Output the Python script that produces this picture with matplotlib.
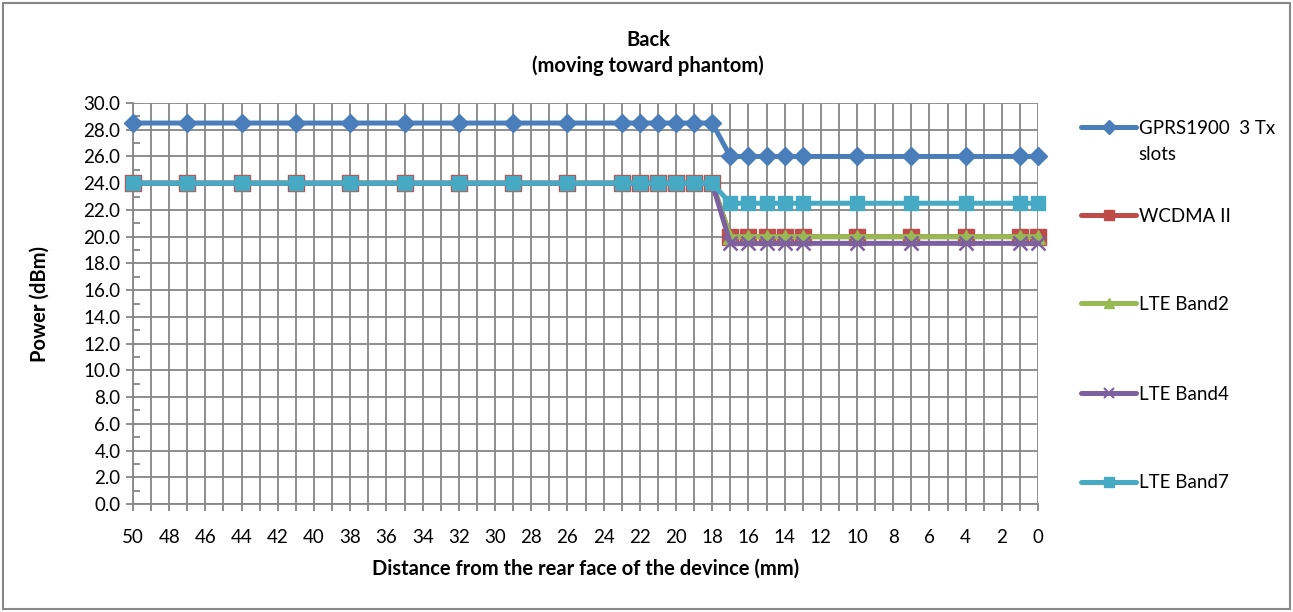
import matplotlib
matplotlib.use("Agg")
import matplotlib.pyplot as plt
from matplotlib.lines import Line2D
from matplotlib.patches import Rectangle
from matplotlib.ticker import MultipleLocator, FormatStrFormatter

plt.rcParams['font.family'] = ['Lato', 'DejaVu Sans']

distance = [50, 47, 44, 41, 38, 35, 32, 29, 26, 23, 22, 21, 20, 19, 18,
            17, 16, 15, 14, 13, 10, 7, 4, 1, 0]
gprs1900 = [28.5] * 15 + [26.0] * 10
wcdma2 = [24.0] * 15 + [20.0] * 10
lte_band2 = [24.0] * 15 + [20.0] * 10
lte_band4 = [24.0] * 15 + [19.5] * 10
lte_band7 = [24.0] * 15 + [22.5] * 10

series_names = ["GPRS1900  3 Tx\nslots", "WCDMA II", "LTE Band2", "LTE Band4", "LTE Band7"]
series_values = [gprs1900, wcdma2, lte_band2, lte_band4, lte_band7]
colors = ["#4A7EBB", "#BE4B48", "#98B954", "#7D60A0", "#46AAC5"]
markers = ["D", "s", "^", "x", "s"]
msizes = [9.5, 11.5, 10, 10, 10]

FS_TICK = 13.5
FS_BOLD = 14.5

W, H = 1293, 612
fig = plt.figure(figsize=(W / 100, H / 100), dpi=100)
ax = fig.add_axes([133 / W, 1 - 504 / H, (1038 - 133) / W, (504 - 103) / H])

grid_c = "#868686"
lines = []
for name, vals, c, m, ms in zip(series_names, series_values, colors, markers, msizes):
    kw = dict(color=c, lw=3.6, marker=m, markersize=ms, zorder=3, solid_joinstyle='round', clip_on=False)
    if m == "x":
        kw.update(markeredgewidth=1.8)
    else:
        kw.update(markeredgecolor=c)
    ln, = ax.plot(distance, vals, **kw)
    lines.append(ln)

ax.set_xlim(50, 0)
ax.set_ylim(0, 30)
ax.xaxis.set_major_locator(MultipleLocator(2))
ax.xaxis.set_minor_locator(MultipleLocator(1))
ax.yaxis.set_major_locator(MultipleLocator(2))
ax.yaxis.set_minor_locator(MultipleLocator(1))
ax.yaxis.set_major_formatter(FormatStrFormatter('%.1f'))
ax.grid(True, which='major', axis='y', color=grid_c, lw=1.3, zorder=0)
ax.grid(True, which='both', axis='x', color=grid_c, lw=1.3, zorder=0)
for s in ax.spines.values():
    s.set_visible(False)
for side in ('left', 'bottom'):
    ax.spines[side].set_visible(True)
    ax.spines[side].set_color(grid_c)
    ax.spines[side].set_linewidth(1.3)
ax.tick_params(axis='x', which='both', direction='out', length=5, width=1.3, color=grid_c, labelsize=FS_TICK, pad=13)
ax.tick_params(axis='y', which='major', direction='out', length=5, width=1.3, color=grid_c, labelsize=FS_TICK, pad=4)
ax.tick_params(axis='y', which='minor', direction='in', length=5, width=1.3, color=grid_c)
ax.set_axisbelow(True)

ax.set_xlabel("Distance from the rear face of the devince (mm)", fontsize=FS_BOLD, fontweight='bold', labelpad=9)
ax.set_ylabel("Power (dBm)", fontsize=FS_BOLD, fontweight='bold', labelpad=24)

fig.text(648 / W, 1 - 40 / H, "Back", ha='center', va='center', fontsize=FS_BOLD, fontweight='bold')
fig.text(648 / W, 1 - 66 / H, "(moving toward phantom)", ha='center', va='center', fontsize=FS_BOLD, fontweight='bold')

# legend entries
leg_y = [128, 216, 304, 394, 483]
for i, (ln, name, y) in enumerate(zip(lines, series_names, leg_y)):
    label = name.split("\n")[0]
    h = Line2D([], [], color=ln.get_color(), lw=3.6, marker=ln.get_marker(), markersize=7,
               markeredgewidth=1.5 if ln.get_marker() == 'x' else 1.0,
               markeredgecolor=ln.get_color(), solid_capstyle='round')
    lg = fig.legend(handles=[h], labels=[label], loc='center left',
                    bbox_to_anchor=(1081 / W, 1 - y / H), frameon=False,
                    fontsize=FS_TICK, handlelength=2.95, handletextpad=0.15,
                    borderpad=0, borderaxespad=0)
    if "\n" in name:
        fig.text(1138 / W, 1 - 155 / H, name.split("\n")[1], ha='left', va='center', fontsize=FS_TICK)

fig.add_artist(Rectangle((3 / W, 3 / H), (W - 6) / W, (H - 6) / H, transform=fig.transFigure,
                         fill=False, edgecolor="#888888", lw=1.5))

fig.savefig("out.png", dpi=100)
